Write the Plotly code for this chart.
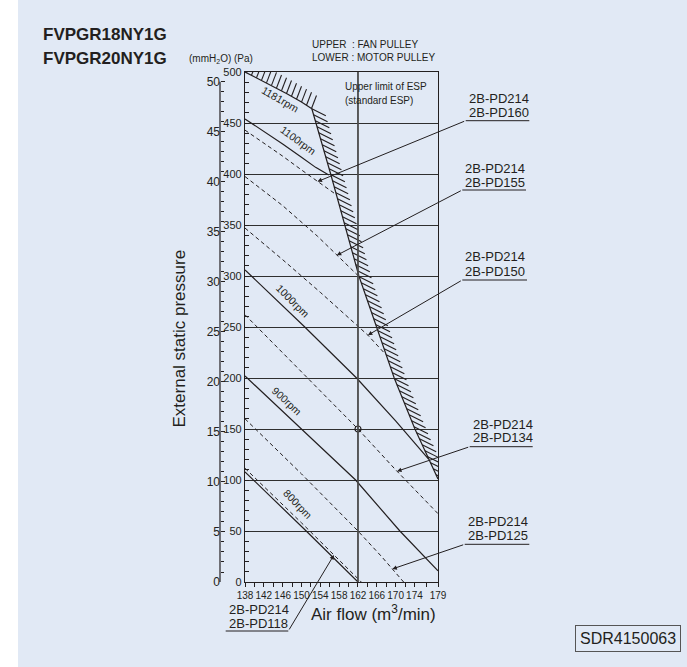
import plotly.graph_objects as go
import numpy as np

# ---------------- data ----------------
model_names = ["FVPGR18NY1G", "FVPGR20NY1G"]
airflow_ticks = [138, 142, 146, 150, 154, 158, 162, 166, 170, 174, 179]
airflow_minor = [140, 144, 148, 152, 156, 160, 164, 168, 172, 176.5]
pa_ticks = [0, 50, 100, 150, 200, 250, 300, 350, 400, 450, 500]
mmaq_ticks = [0, 5, 10, 15, 20, 25, 30, 35, 40, 45, 50]

# constant fan-speed curves (solid)
rpm_labels = ["1181rpm", "1100rpm", "1000rpm", "900rpm", "800rpm"]
rpm1181_x = [138, 141, 144, 147, 150, 152.2]
rpm1181_p = [500, 493, 486, 478.5, 470.5, 464]
rpm1100_x = [138, 142, 146, 150, 153, 155.8]
rpm1100_p = [454, 442, 429.5, 416.5, 406.5, 399]
rpm1000_x = [138, 150.7, 161.7, 170, 177]
rpm1000_p = [306, 250, 200, 158, 120.5]
rpm900_x = [138, 150, 161.5, 170.9, 179]
rpm900_p = [202, 150, 100, 50, 11]
rpm800_x = [138, 145, 151, 162]
rpm800_p = [108, 77, 50, 0]

# pulley combination curves (dashed)
pulley_upper = "2B-PD214"
pulley_lower = ["2B-PD160", "2B-PD155", "2B-PD150", "2B-PD134", "2B-PD125", "2B-PD118"]
pd160_x = [138, 142, 146, 150, 154, 157]
pd160_p = [443, 430.5, 417.5, 404, 390.5, 381]
pd155_x = [138, 146, 153.4, 158, 162.1]
pd155_p = [397.5, 369, 339, 318, 300]
pd150_x = [138, 146, 154, 160, 164.1, 167.9]
pd150_p = [347, 316, 284, 259, 242, 223]
pd134_x = [138, 150, 162, 170, 179]
pd134_p = [262, 206, 150, 110, 67]
pd125_x = [138, 150, 162, 167, 171.7]
pd125_p = [160, 106, 50, 25, 0]
pd118_x = [138, 150, 162.7]
pd118_p = [111.5, 58, 0]

# upper limit of ESP (standard ESP)
limit_x = [152.2, 156.2, 162.2, 166, 169.7, 174.1, 179]
limit_p = [464, 400, 300, 250, 200, 150, 101]

rated_flow = 162
rated_esp = 150
PA_PER_MMAQ = 9.80665

# ---------------- layout geometry ----------------
W, H = 687, 667
L, R, T, B = 200, 249, 72, 85
PW, PH = W - L - R, H - T - B
PLOT_X0 = 245
XMIN, XMAX = 138, 179
PMAX = 500
INK = "#231f20"
BG = "#e1e9f5"
FONT = "Liberation Sans, Arial, Helvetica, sans-serif"
NARROW = "Liberation Sans Narrow, Arial Narrow, Liberation Sans, Arial, sans-serif"
X_PER_PX = (XMAX - XMIN) / (W - R - PLOT_X0)
P_PER_PX = PMAX / PH


def pxp(xpix):
    return (xpix - L) / PW


def pyp(ypix):
    return (H - B - ypix) / PH


def data_to_px(x, p):
    return (PLOT_X0 + (x - XMIN) / X_PER_PX, H - B - p / P_PER_PX)


fig = go.Figure()

# ---- hatching along the upper limit (strokes derived from the limit curves) ----
hx, hy = [], []
# top segment (1181 rpm part): strokes rising to the right
for x0 in np.arange(XMIN + 1.5 * X_PER_PX, rpm1181_x[-1] + 0.3, 5 * X_PER_PX):
    p0 = float(np.interp(x0, rpm1181_x, rpm1181_p))
    hx += [x0, x0 + 5 * X_PER_PX, None]
    hy += [p0, p0 + 13 * P_PER_PX, None]
# steep segment: strokes descending to the right
lp_rev, lx_rev = limit_p[::-1], limit_x[::-1]
for p0 in np.arange(limit_p[0], limit_p[-1], -6 * P_PER_PX):
    x0 = float(np.interp(p0, lp_rev, lx_rev))
    hx += [x0, x0 + 14 * X_PER_PX, None]
    hy += [p0, p0 - 7 * P_PER_PX, None]
fig.add_trace(go.Scatter(x=hx, y=hy, mode="lines", line=dict(color=INK, width=1.1),
                         connectgaps=False, hoverinfo="skip", showlegend=False))

solid_sets = [(rpm1181_x, rpm1181_p), (rpm1100_x, rpm1100_p), (rpm1000_x, rpm1000_p),
              (rpm900_x, rpm900_p), (rpm800_x, rpm800_p), (limit_x, limit_p)]
for xs, ps in solid_sets:
    fig.add_trace(go.Scatter(x=xs, y=ps, mode="lines", line=dict(color=INK, width=1.2),
                             hoverinfo="skip", showlegend=False))

dashed_sets = [(pd160_x, pd160_p), (pd155_x, pd155_p), (pd150_x, pd150_p),
               (pd134_x, pd134_p), (pd125_x, pd125_p), (pd118_x, pd118_p)]
for xs, ps in dashed_sets:
    fig.add_trace(go.Scatter(x=xs, y=ps, mode="lines",
                             line=dict(color=INK, width=1, dash="4px,3px"),
                             hoverinfo="skip", showlegend=False))

# rated point
fig.add_trace(go.Scatter(x=[rated_flow], y=[rated_esp], mode="markers",
                         marker=dict(symbol="circle-open", size=6, color=INK, line=dict(width=1.2)),
                         hoverinfo="skip", showlegend=False))

# invisible trace bound to the mmH2O axis
fig.add_trace(go.Scatter(x=[XMIN, XMIN], y=[mmaq_ticks[0], mmaq_ticks[-1]], yaxis="y2",
                         mode="lines", line=dict(width=0), opacity=0,
                         hoverinfo="skip", showlegend=False))

# vertical rated-airflow line
fig.add_shape(type="line", xref="x", yref="y", x0=rated_flow, x1=rated_flow,
              y0=pa_ticks[0], y1=pa_ticks[-1], line=dict(color="#4a4a4a", width=1.8))

# mmH2O axis spine (only over its labelled span)
fig.add_shape(type="line", xref="paper", yref="y2", x0=pxp(220), x1=pxp(220),
              y0=mmaq_ticks[0], y1=mmaq_ticks[-1], line=dict(color=INK, width=1.2))

# white strip at the left edge
fig.add_shape(type="rect", xref="paper", yref="paper", x0=pxp(-2), x1=pxp(18),
              y0=pyp(H + 2), y1=pyp(-2), fillcolor="white", line=dict(width=0), layer="below")

ann = []


def text(t, xpix, ypix, size, xanchor="left", angle=0, bold=False, font=FONT):
    ann.append(dict(text=("<b>%s</b>" % t) if bold else t, x=pxp(xpix), y=pyp(ypix),
                    xref="paper", yref="paper", xanchor=xanchor, yanchor="middle",
                    showarrow=False, textangle=angle,
                    font=dict(size=size, color=INK, family=font)))


text(model_names[0], 41, 34, 17, bold=True)
text(model_names[1], 41, 58, 17, bold=True)
text("(mmH<sub>2</sub>O) (Pa)", 187, 59, 10)
text("UPPER\u00a0\u00a0: FAN PULLEY", 310, 45, 10)
text("LOWER : MOTOR PULLEY", 310, 57.5, 10)
text("Upper limit of ESP", 342.5, 86.7, 10)
text("(standard ESP)", 342.5, 100.7, 10)

# rpm labels on the curves
rpm_pos = [(280, 99, 30), (298, 140, 36), (293, 301, 45), (287, 401, 43), (298, 504, 46)]
for lab, (xp_, yp_, ang) in zip(rpm_labels, rpm_pos):
    text(lab, xp_, yp_, 10.5, xanchor="center", angle=ang)

# axis titles
text("Air flow (m<sup>3</sup>/min)", 373, 613, 17, xanchor="center")
text("External static pressure", 179, 338.5, 17, xanchor="center", angle=-90)

# pulley labels with underline and leader arrow
label_boxes = [  # left px, right px, line1 y, line2 y, underline y, tail at left?, tip x
    (466.7, 528.3, 98.3, 112.3, 120.7, True, 153.4),
    (463.3, 525.0, 168.3, 182.3, 190.0, True, 157.5),
    (463.3, 526.0, 256.7, 271.0, 280.0, True, 164.1),
    (470.7, 531.7, 424.0, 437.3, 446.7, True, 170.3),
    (465.7, 528.3, 521.0, 535.7, 544.3, True, 169.3),
    (226.7, 287.3, 609.0, 623.5, 631.0, False, 156.9),
]
for lower, (xl, xr, y1, y2, yu, tail_left, tipx), (xs, ps) in zip(pulley_lower, label_boxes, dashed_sets):
    text(pulley_upper, xl, y1, 13)
    text(lower, xl, y2, 13)
    fig.add_shape(type="line", xref="paper", yref="paper", x0=pxp(xl - 1), x1=pxp(xr + 1),
                  y0=pyp(yu), y1=pyp(yu), line=dict(color=INK, width=1))
    tipp = float(np.interp(tipx, xs, ps))
    hx_, hy_ = data_to_px(tipx, tipp)
    tx = xl - 1 if tail_left else xr + 1
    ann.append(dict(x=tipx, y=tipp, xref="x", yref="y", text="", showarrow=True,
                    ax=tx - hx_, ay=yu - hy_, axref="pixel", ayref="pixel",
                    arrowhead=2, arrowsize=0.9, arrowwidth=1, arrowcolor=INK, standoff=0))

# document code box
ann.append(dict(text="SDR4150063", x=pxp(628), y=pyp(638.5), xref="paper", yref="paper",
                xanchor="center", yanchor="middle", showarrow=False,
                font=dict(size=16, color=INK, family=FONT),
                bordercolor="#555555", borderwidth=1, borderpad=4))

axis_common = dict(showline=True, linecolor=INK, linewidth=1.2, zeroline=False)

fig.update_layout(
    width=W, height=H,
    margin=dict(l=L, r=R, t=T, b=B, pad=0),
    paper_bgcolor=BG, plot_bgcolor="rgba(0,0,0,0)",
    font=dict(family=FONT, color=INK),
    showlegend=False,
    annotations=ann,
    xaxis=dict(domain=[pxp(PLOT_X0), 1], range=[XMIN, XMAX], tickmode="array",
               tickvals=airflow_ticks, ticktext=[str(v) for v in airflow_ticks],
               ticks="outside", ticklen=4, tickwidth=1, tickcolor=INK,
               minor=dict(tickmode="array", tickvals=airflow_minor, ticks="outside",
                          ticklen=4, tickcolor=INK),
               tickfont=dict(size=10, family=NARROW, color=INK), tickangle=0,
               showgrid=False, mirror=True, **axis_common),
    yaxis=dict(range=[0, PMAX], tickmode="array", tickvals=pa_ticks,
               ticks="inside", ticklen=4, tickcolor=INK,
               minor=dict(dtick=10, tick0=0, ticks="inside", ticklen=4, tickcolor=INK, showgrid=False),
               tickfont=dict(size=11, family=FONT, color=INK),
               showgrid=True, gridcolor="#2f2f2f", gridwidth=1.2, mirror=True, **axis_common),
    yaxis2=dict(overlaying="y", anchor="free", position=pxp(220), side="left",
                range=[0, PMAX / PA_PER_MMAQ], tickmode="array", tickvals=mmaq_ticks,
                ticks="inside", ticklen=4, tickcolor=INK,
                minor=dict(dtick=1, tick0=0, ticks="inside", ticklen=3, tickcolor=INK),
                tickfont=dict(size=12, family=FONT, color=INK),
                showgrid=False, showline=False, zeroline=False),
)

fig.write_html("out.html", post_script="document.body.style.margin='0px';",
               config={"displayModeBar": False})
